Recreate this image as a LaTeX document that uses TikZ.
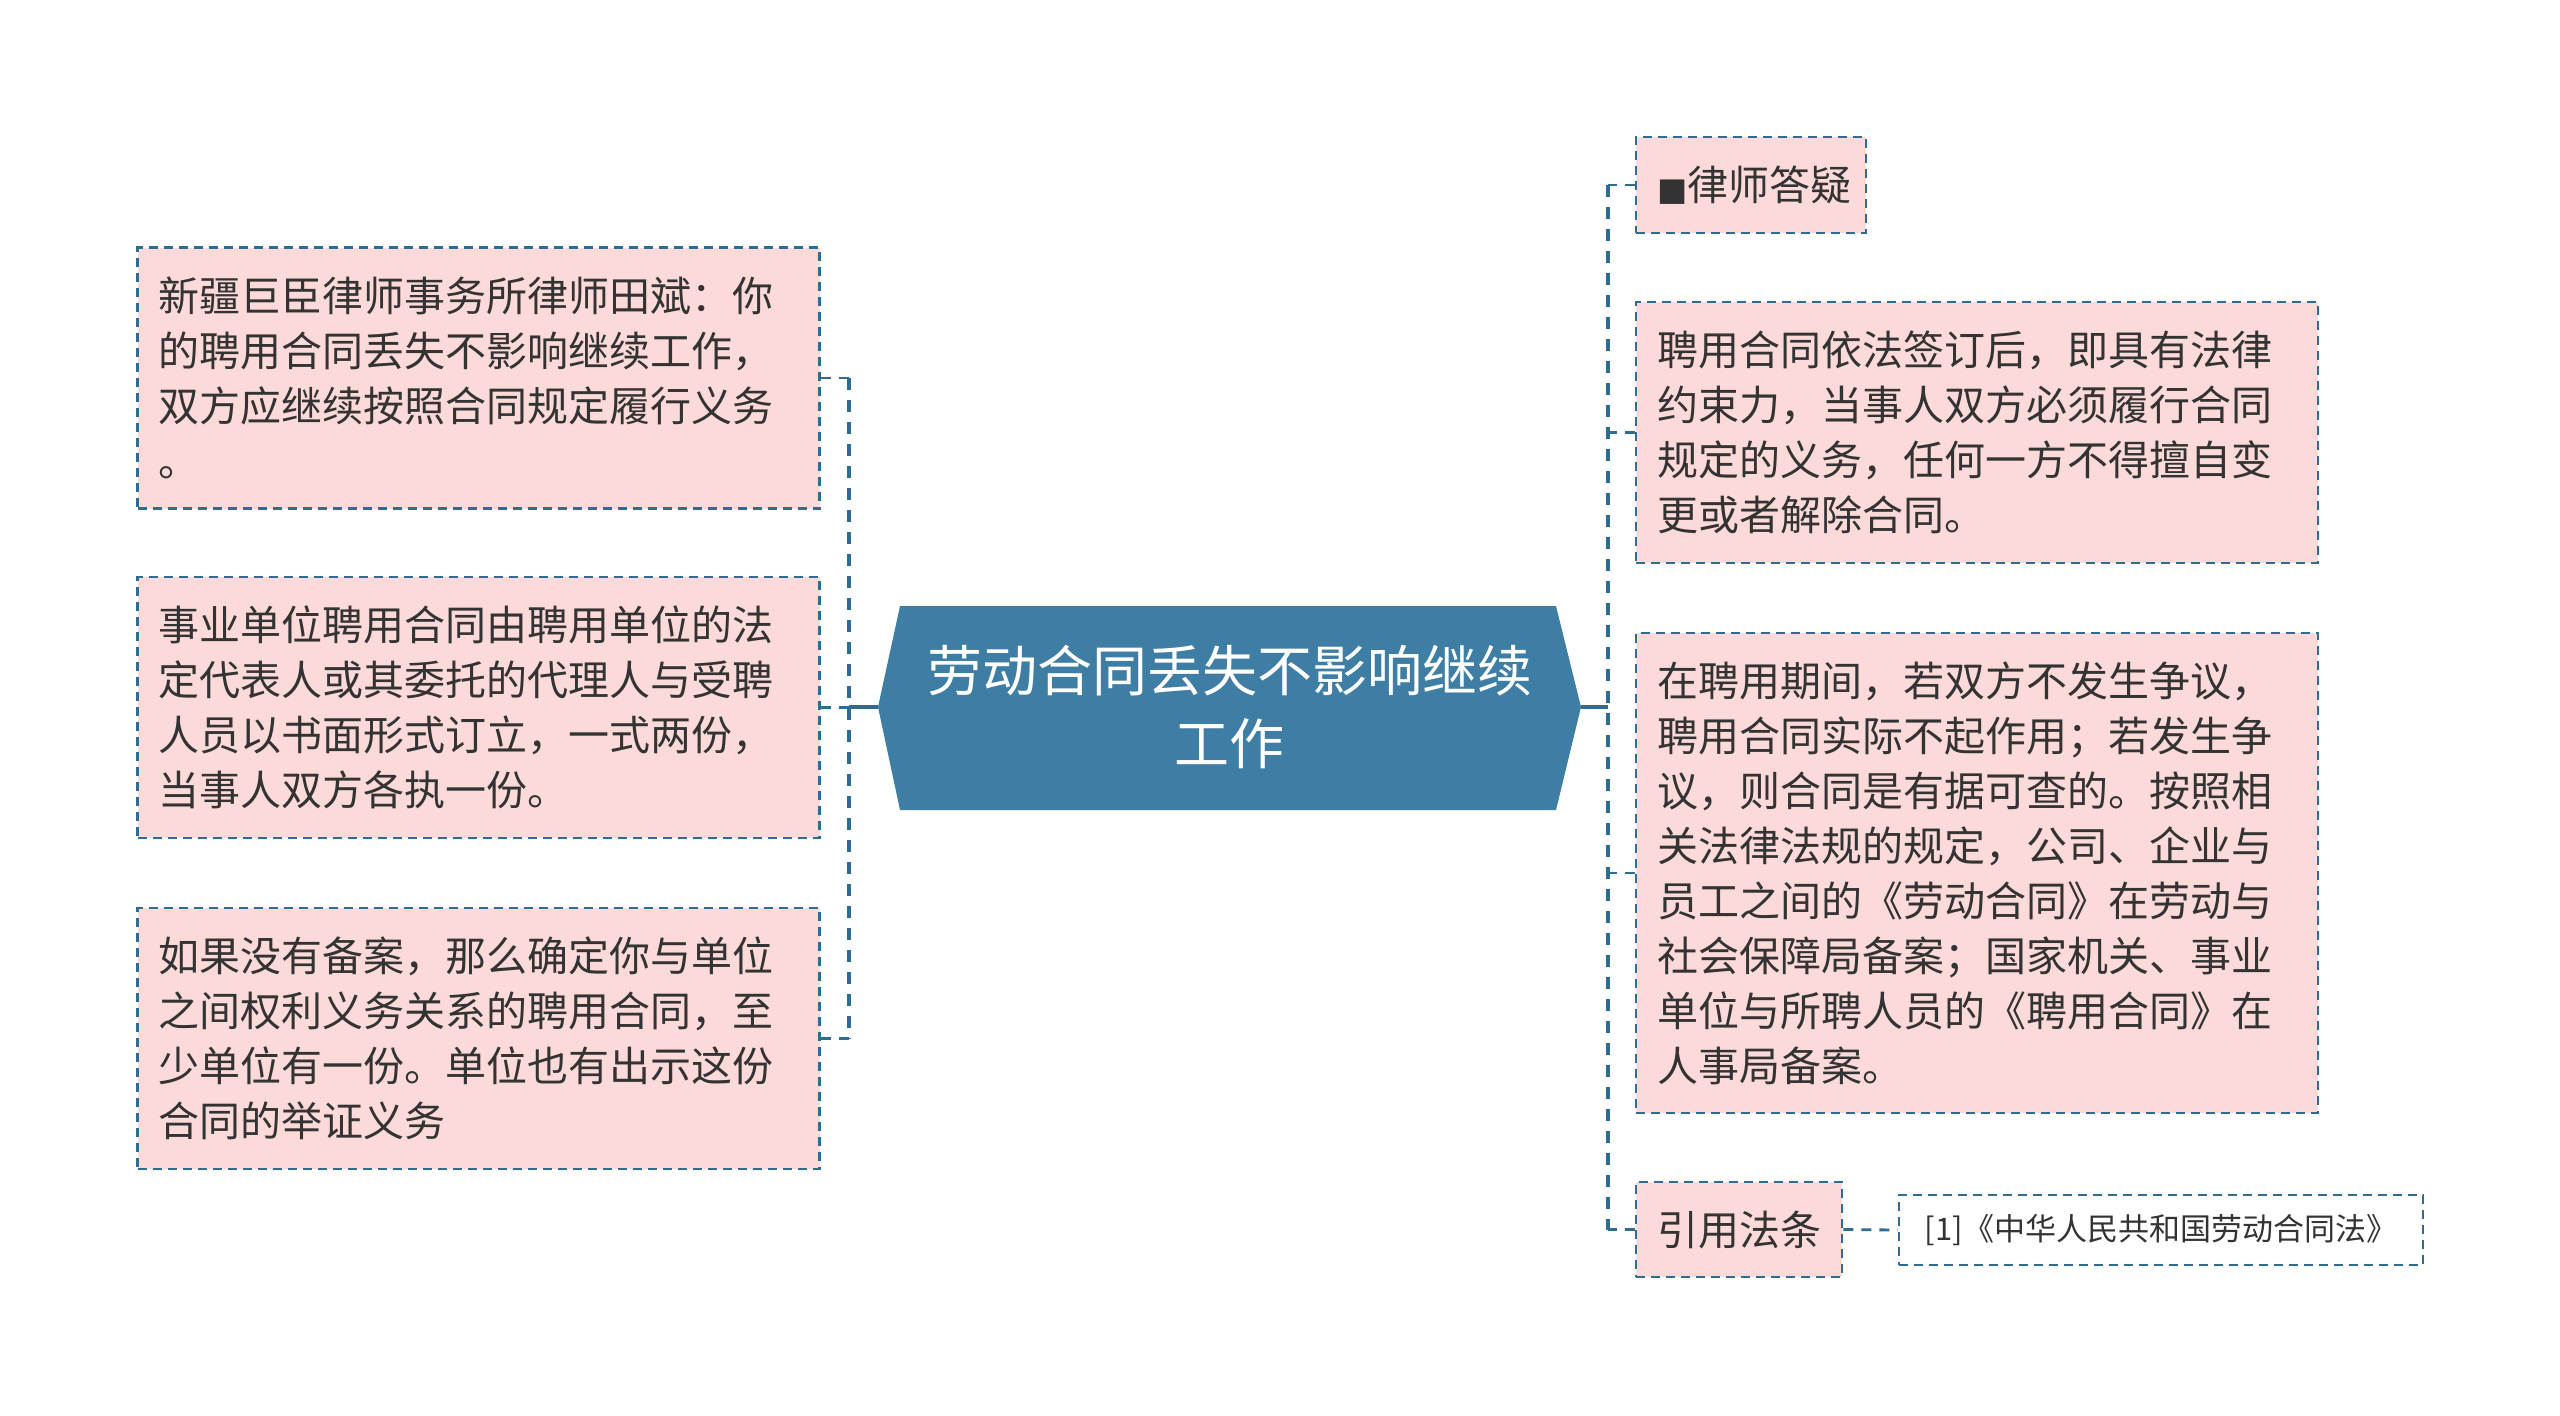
\documentclass[tikz,border=0pt]{standalone}
\usepackage{fontspec}
\setmainfont{Noto Sans CJK SC}
\newfontfamily\symfont{DejaVu Sans}
\definecolor{pinkfill}{RGB}{252,218,218}
\definecolor{edgeblue}{RGB}{46,108,146}
\definecolor{rootfill}{RGB}{63,126,164}
\definecolor{txt}{RGB}{51,51,51}
\begin{document}
\begin{tikzpicture}[x=0.5pt,y=-0.5pt,
 leaf/.style={draw=edgeblue, line width=1.3pt, dash pattern=on 4.5pt off 3pt, fill=pinkfill, text=txt,
   font=\fontsize{20.5}{27.5}\selectfont, align=left, inner xsep=10.5pt, inner ysep=0pt, anchor=center},
 refbox/.style={leaf, fill=white, font=\fontsize{15.5}{20}\selectfont},
 conn/.style={draw=edgeblue, line width=2pt, dash pattern=on 6pt off 5pt},
 thinconn/.style={draw=edgeblue, line width=1.4pt, dash pattern=on 5pt off 4pt},
 solidconn/.style={draw=edgeblue, line width=2pt},
 roottext/.style={text=white, font=\fontsize{27.5}{36.7}\selectfont, align=center}]
\useasboundingbox (0,0) rectangle (2560,1415);

% root
\fill[rootfill] (900,606) -- (1556,606) -- (1581,707) -- (1556,810) -- (900,810) -- (878,707) -- cycle;
\node[roottext] (root) at (1229.5,707) {劳动合同丢失不影响继续\\工作};
\coordinate (rootL) at (878,707);
\coordinate (rootR) at (1581,707);

% left boxes
\node[leaf, text width=320pt, minimum height=130.5pt] (l1) at (478.5,378)
 {新疆巨臣律师事务所律师田斌：你\\的聘用合同丢失不影响继续工作，\\双方应继续按照合同规定履行义务\\。};
\node[leaf, text width=320pt, minimum height=130.5pt] (l2) at (478.5,707.5)
 {事业单位聘用合同由聘用单位的法\\定代表人或其委托的代理人与受聘\\人员以书面形式订立，一式两份，\\当事人双方各执一份。};
\node[leaf, text width=320pt, minimum height=130.5pt] (l3) at (478.5,1038.5)
 {如果没有备案，那么确定你与单位\\之间权利义务关系的聘用合同，至\\少单位有一份。单位也有出示这份\\合同的举证义务};

% right boxes
\node[leaf, text width=94pt, minimum height=48pt] (r1) at (1751,185)
 {{\symfont\fontsize{16}{16}\selectfont ■}律师答疑};
\node[leaf, text width=320pt, minimum height=130.5pt] (r2) at (1977,432.5)
 {聘用合同依法签订后，即具有法律\\约束力，当事人双方必须履行合同\\规定的义务，任何一方不得擅自变\\更或者解除合同。};
\node[leaf, text width=320pt, minimum height=240pt] (r3) at (1977,873)
 {在聘用期间，若双方不发生争议，\\聘用合同实际不起作用；若发生争\\议，则合同是有据可查的。按照相\\关法律法规的规定，公司、企业与\\员工之间的《劳动合同》在劳动与\\社会保障局备案；国家机关、事业\\单位与所聘人员的《聘用合同》在\\人事局备案。};
\node[leaf, minimum height=47.5pt, minimum width=103pt] (r4) at (1739,1229.5) {引用法条};
\node[refbox, minimum height=35pt, minimum width=262pt, align=center] (r5) at (2161,1230)
 {[1]《中华人民共和国劳动合同法》};

% left connectors
\coordinate (spL) at (849,707);
\draw[solidconn] (rootL) -- (spL);
\draw[conn] (l1.east -| spL) -- (l3.east -| spL);
\draw[thinconn] (l1.east) -- (l1.east -| spL);
\draw[thinconn] (l2.east) -- (l2.east -| spL);
\draw[thinconn] (l3.east) -- (l3.east -| spL);

% right connectors
\coordinate (spR) at (1608,707);
\draw[solidconn] (rootR) -- (spR);
\draw[conn] (r1.west -| spR) -- (r4.west -| spR);
\draw[thinconn] (r1.west) -- (r1.west -| spR);
\draw[thinconn] (r2.west) -- (r2.west -| spR);
\draw[thinconn] (r3.west) -- (r3.west -| spR);
\draw[thinconn] (r4.west) -- (r4.west -| spR);
\draw[thinconn] (r4.east) -- (r5.west);
\end{tikzpicture}
\end{document}
